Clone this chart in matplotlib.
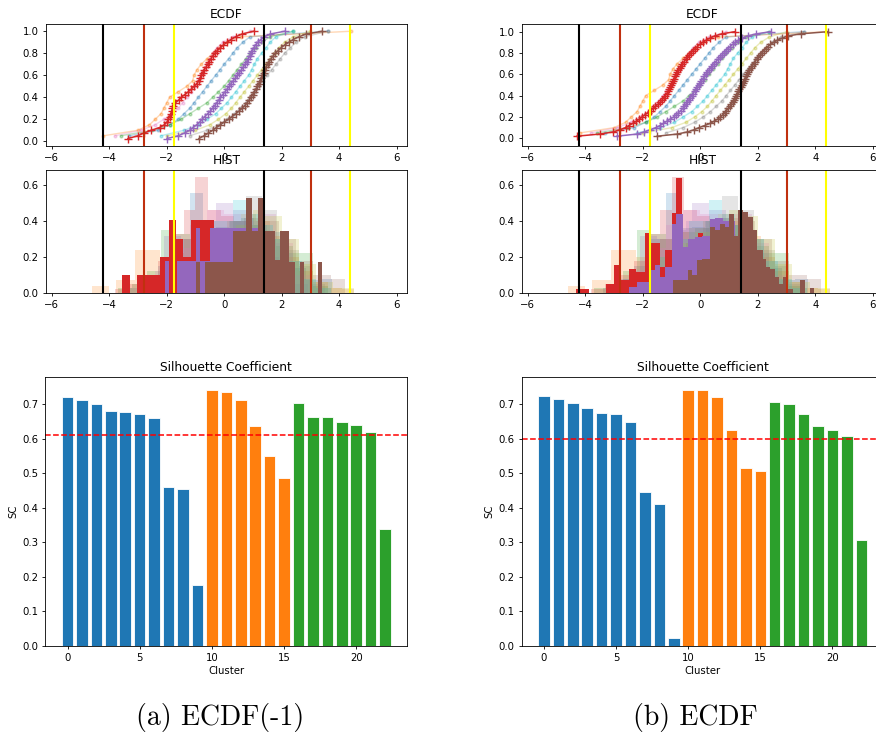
import numpy as np
import matplotlib.pyplot as plt

# ---- silhouette coefficient per cluster ----
sc_ecdf_m1 = [0.720, 0.711, 0.700, 0.679, 0.677, 0.672, 0.660, 0.460, 0.453, 0.176,
              0.741, 0.736, 0.712, 0.635, 0.550, 0.486,
              0.702, 0.663, 0.661, 0.647, 0.640, 0.620, 0.338]
sc_ecdf = [0.723, 0.714, 0.704, 0.687, 0.673, 0.671, 0.649, 0.446, 0.412, 0.023,
           0.741, 0.740, 0.721, 0.624, 0.516, 0.506,
           0.706, 0.700, 0.671, 0.635, 0.624, 0.606, 0.308]
cluster_group = [0, 0, 0, 0, 0, 0, 0, 0, 0, 0,
                 1, 1, 1, 1, 1, 1,
                 2, 2, 2, 2, 2, 2, 2]
group_colors = ["tab:blue", "tab:orange", "tab:green"]

# ---- reference bounds drawn on the ECDF / HIST panels ----
black_bounds = [-4.22, 1.40]
brick_bounds = [-2.80, 3.02]
yellow_bounds = [-1.75, 4.36]

# ---- background clusters: ECDF samples ----
faint_colors = ["tab:blue", "tab:orange", "tab:green", "tab:pink",
                "tab:gray", "tab:olive", "tab:cyan"]
blue_samples = [-3.3, -2.3, -1.9, -1.6, -1.4, -1.2, -1.05, -0.9, -0.75, -0.6,
                -0.45, -0.3, -0.15, 0.0, 0.15, 0.3, 0.45, 0.65, 0.9, 3.6]
orange_samples = [-4.2, -3.0, -2.6, -2.4, -2.2, -2.1, -2.0, -1.9, -1.6, -1.3,
                  -1.1, -1.05, -0.95, -0.8, -0.6, -0.4, -0.2, 0.1, 0.6, 4.4]
green_samples = [-3.6, -2.5, -1.9, -1.5, -1.2, -0.9, -0.6, -0.4, -0.2, 0.0,
                 0.15, 0.3, 0.45, 0.6, 0.75, 0.9, 1.1, 1.3, 1.6, 2.4]
pink_samples = [-3.8, -2.9, -2.4, -2.1, -1.8, -1.6, -1.45, -1.3, -1.15, -1.0,
                -0.9, -0.8, -0.7, -0.6, -0.5, -0.4, -0.25, -0.05, 0.3, 0.9]
gray_samples = [-1.2, -0.6, -0.2, 0.1, 0.35, 0.55, 0.75, 0.9, 1.05, 1.2,
                1.35, 1.5, 1.65, 1.8, 1.95, 2.1, 2.3, 2.5, 2.8, 3.6]
olive_samples = [-2.0, -1.0, -0.5, -0.2, 0.05, 0.25, 0.4, 0.55, 0.7, 0.85,
                 1.0, 1.15, 1.3, 1.45, 1.6, 1.75, 1.9, 2.1, 2.4, 3.0]
cyan_samples = [-2.2, -1.4, -0.9, -0.6, -0.3, -0.1, 0.1, 0.25, 0.4, 0.55,
                0.7, 0.85, 0.95, 1.05, 1.15, 1.3, 1.45, 1.6, 1.8, 2.4]

# ---- background clusters: histogram bins ----
hist_faint_colors = ["tab:blue", "tab:orange", "tab:green", "tab:red", "tab:purple",
                     "tab:brown", "tab:pink", "tab:gray", "tab:olive", "tab:cyan"]
blue_edges = [-3.4, -2.85, -2.3, -1.75, -1.2, -0.75, -0.3, 0.15, 0.6, 1.05, 1.5, 1.95, 2.4, 2.85, 3.3, 3.75]
blue_heights = [0.03, 0.08, 0.15, 0.30, 0.555, 0.36, 0.37, 0.40, 0.42, 0.38, 0.34, 0.22, 0.14, 0.07, 0.08]
orange_edges = [-4.6, -4.0, -3.75, -3.1, -2.25, -1.9, -1.4, -0.9, -0.4, 0.1, 0.6, 1.1, 1.6, 2.1, 2.6, 3.1, 3.6, 4.1, 4.5]
orange_heights = [0.04, 0.0, 0.07, 0.24, 0.20, 0.22, 0.30, 0.34, 0.36, 0.40, 0.44, 0.40, 0.32, 0.20, 0.12, 0.06, 0.03, 0.02]
green_edges = [-3.7, -3.2, -2.7, -2.2, -1.7, -1.2, -0.7, -0.2, 0.3, 0.8, 1.3, 1.8, 2.4, 3.1, 3.6]
green_heights = [0.03, 0.05, 0.12, 0.35, 0.33, 0.30, 0.34, 0.36, 0.40, 0.38, 0.30, 0.26, 0.225, 0.04]
red_edges = [-3.8, -3.3, -2.8, -2.3, -1.8, -1.4, -1.0, -0.55, -0.1, 0.35, 0.8, 1.25, 1.7, 2.2]
red_heights = [0.02, 0.05, 0.10, 0.18, 0.33, 0.46, 0.648, 0.46, 0.43, 0.40, 0.33, 0.25, 0.10]
purple_edges = [-2.7, -2.1, -1.5, -1.0, -0.5, -0.3, 0.3, 0.9, 1.4, 1.9, 2.4, 2.9]
purple_heights = [0.08, 0.32, 0.30, 0.35, 0.40, 0.50, 0.46, 0.30, 0.20, 0.10, 0.05]
brown_edges = [-2.3, -1.7, -1.1, -0.5, 0.1, 0.7, 1.3, 1.9, 2.5, 3.1, 3.7, 4.2]
brown_heights = [0.04, 0.10, 0.18, 0.28, 0.36, 0.42, 0.40, 0.30, 0.18, 0.10, 0.08]
pink_edges = [-3.0, -2.4, -1.8, -1.2, -0.6, 0.0, 0.6, 1.2, 1.8, 2.4, 3.0]
pink_heights = [0.05, 0.12, 0.25, 0.38, 0.46, 0.44, 0.40, 0.44, 0.28, 0.10]
gray_edges = [-2.2, -1.6, -1.0, -0.4, 0.2, 0.75, 1.3, 1.85, 2.2, 2.6, 3.0, 3.5]
gray_heights = [0.05, 0.10, 0.20, 0.30, 0.40, 0.54, 0.46, 0.30, 0.24, 0.15, 0.05]
olive_edges = [-2.6, -2.0, -1.4, -0.8, -0.2, 0.4, 1.0, 1.4, 2.0, 2.6, 3.2, 3.8, 4.5]
olive_heights = [0.03, 0.10, 0.20, 0.28, 0.34, 0.38, 0.46, 0.43, 0.30, 0.16, 0.06, 0.03]
cyan_edges = [-2.4, -1.9, -1.4, -0.9, -0.4, 0.3, 0.75, 1.2, 1.7, 2.2, 2.7, 3.2, 3.7]
cyan_heights = [0.04, 0.10, 0.20, 0.30, 0.40, 0.518, 0.44, 0.38, 0.30, 0.18, 0.08, 0.03]

# ---- highlighted clusters, ECDF(-1) ----
hl_red_m1 = [-3.35, -3.0, -2.8, -2.53, -2.25, -2.08, -1.99, -1.95, -1.90, -1.86,
             -1.83, -1.80, -1.78, -1.70, -1.58, -1.49, -1.37, -1.25, -1.14, -1.05,
             -0.95, -0.89, -0.84, -0.79, -0.75, -0.70, -0.63, -0.57, -0.52, -0.46,
             -0.40, -0.32, -0.24, -0.13, -0.03, 0.10, 0.23, 0.40, 0.62, 1.02]
hl_purple_m1 = [-1.99, -1.6, -1.38, -1.20, -1.08, -0.96, -0.85, -0.77, -0.68, -0.58,
                -0.48, -0.40, -0.33, -0.26, -0.19, -0.13, -0.05, 0.03, 0.10, 0.18,
                0.24, 0.31, 0.39, 0.46, 0.53, 0.60, 0.66, 0.73, 0.79, 0.84,
                0.89, 0.93, 0.98, 1.03, 1.09, 1.17, 1.27, 1.40, 1.60, 2.10]
hl_brown_m1 = [-0.88, -0.70, -0.55, -0.40, -0.27, -0.13, 0.00, 0.15, 0.28, 0.40,
               0.52, 0.62, 0.72, 0.80, 0.87, 0.93, 0.99, 1.05, 1.10, 1.15,
               1.20, 1.24, 1.28, 1.33, 1.37, 1.42, 1.46, 1.51, 1.57, 1.63,
               1.70, 1.78, 1.88, 1.98, 2.10, 2.25, 2.40, 2.60, 2.85, 3.41]
hl_red_m1_edges = [-3.565, -3.287, -3.032, -2.22, -1.931, -1.688, -1.433, -1.166, -0.355]
hl_red_m1_heights = [0.10, 0.0, 0.10, 0.20, 0.405, 0.30, 0.20, 0.405]
hl_purple_m1_edges = [-2.07, -1.931, -1.641, -0.992, -0.83, -0.506, 1.35]
hl_purple_m1_heights = [0.18, 0.0, 0.18, 0.363, 0.18, 0.363]
hl_brown_m1_edges = [-0.99, -0.83, -0.68, 0.31, 0.77, 0.97, 1.18, 1.41, 1.58, 1.78,
                     1.93, 2.27, 2.46, 2.62, 2.76, 3.26, 3.40]
hl_brown_m1_heights = [0.17, 0.0, 0.17, 0.345, 0.527, 0.345, 0.527, 0.345, 0.345, 0.183,
                       0.345, 0.17, 0.0, 0.17, 0.0, 0.17]

# ---- highlighted clusters, ECDF ----
hl_red = [-4.29, -3.5, -3.02, -2.8, -2.6, -2.48, -2.35, -2.22, -2.12, -2.03,
          -1.93, -1.83, -1.73, -1.65, -1.56, -1.47, -1.39, -1.33, -1.27, -1.22,
          -1.17, -1.12, -1.08, -1.05, -1.01, -0.98, -0.95, -0.91, -0.88, -0.84,
          -0.80, -0.76, -0.71, -0.67, -0.62, -0.56, -0.50, -0.45, -0.39, -0.33,
          -0.26, -0.18, -0.10, -0.02, 0.08, 0.20, 0.34, 0.50, 0.75, 1.2]
hl_purple = [-2.9, -2.2, -1.95, -1.74, -1.55, -1.40, -1.28, -1.17, -1.05, -0.93,
             -0.84, -0.76, -0.68, -0.61, -0.55, -0.50, -0.45, -0.40, -0.35, -0.30,
             -0.25, -0.20, -0.15, -0.11, -0.06, -0.01, 0.04, 0.09, 0.14, 0.19,
             0.24, 0.30, 0.36, 0.42, 0.48, 0.54, 0.61, 0.68, 0.75, 0.82,
             0.89, 0.96, 1.04, 1.12, 1.21, 1.32, 1.46, 1.65, 1.95, 2.45]
hl_brown = [-1.5, -0.8, -0.45, -0.22, -0.05, 0.15, 0.34, 0.48, 0.60, 0.70,
            0.78, 0.85, 0.91, 0.97, 1.03, 1.08, 1.12, 1.16, 1.20, 1.24,
            1.28, 1.32, 1.36, 1.40, 1.44, 1.48, 1.51, 1.55, 1.59, 1.63,
            1.67, 1.71, 1.76, 1.80, 1.85, 1.90, 1.96, 2.02, 2.08, 2.14,
            2.20, 2.27, 2.35, 2.44, 2.55, 2.68, 2.85, 3.05, 3.50, 4.44]
hl_red_edges = [-4.31, -3.883, -3.27, -3.016, -2.75, -2.496, -2.23, -1.918, -1.744,
                -1.397, -1.224, -0.993, -0.842, -0.646, -0.07, 0.11]
hl_red_heights = [0.02, 0.0, 0.052, 0.155, 0.07, 0.136, 0.118, 0.335, 0.28,
                  0.145, 0.24, 0.447, 0.639, 0.2, 0.335]
hl_purple_edges = [-2.496, -2.207, -1.744, -1.571, -1.397, -1.224, -0.993, -0.842,
                   -0.588, -0.415, -0.183, 0.048, 0.337, 0.51, 0.80, 1.204, 1.32, 1.49]
hl_purple_heights = [0.034, 0.06, 0.127, 0.155, 0.09, 0.145, 0.387, 0.44,
                     0.257, 0.30, 0.31, 0.32, 0.41, 0.42, 0.40, 0.32, 0.10]
hl_brown_edges = [-0.935, -0.53, -0.415, -0.30, -0.125, 0.048, 0.337, 0.51, 0.684, 0.857,
                  1.008, 1.17, 1.32, 1.493, 1.667, 1.817, 1.956, 2.164, 2.30, 2.418,
                  2.592, 2.742, 2.88, 3.054, 3.227, 3.46, 3.63, 3.80, 3.97]
hl_brown_heights = [0.07, 0.07, 0.127, 0.10, 0.183, 0.19, 0.365, 0.35, 0.387, 0.37,
                    0.44, 0.32, 0.46, 0.45, 0.425, 0.35, 0.24, 0.19, 0.145, 0.136,
                    0.09, 0.052, 0.09, 0.025, 0.0, 0.07, 0.0, 0.03]

faint_samples = [blue_samples, orange_samples, green_samples, pink_samples,
                 gray_samples, olive_samples, cyan_samples]
faint_hists = [(blue_edges, blue_heights), (orange_edges, orange_heights),
               (green_edges, green_heights), (red_edges, red_heights),
               (purple_edges, purple_heights), (brown_edges, brown_heights),
               (pink_edges, pink_heights), (gray_edges, gray_heights),
               (olive_edges, olive_heights), (cyan_edges, cyan_heights)]
hl_colors = ["tab:red", "tab:purple", "tab:brown"]

FS_TICK = 7.3
FS_TITLE = 8.8
LW_SPINE = 0.6

plt.rcParams.update({
    "font.size": FS_TICK,
    "xtick.labelsize": FS_TICK,
    "ytick.labelsize": FS_TICK,
    "axes.linewidth": LW_SPINE,
    "xtick.major.width": LW_SPINE,
    "ytick.major.width": LW_SPINE,
    "xtick.major.size": 2.5,
    "ytick.major.size": 2.5,
    "xtick.major.pad": 2.5,
    "ytick.major.pad": 2.5,
})


def add_bounds(ax):
    for x in black_bounds:
        ax.axvline(x, color="black", lw=1.5)
    for x in brick_bounds:
        ax.axvline(x, color="#c0300f", lw=1.5)
    for x in yellow_bounds:
        ax.axvline(x, color="yellow", lw=1.5)


def draw_ecdf(ax, highlighted, ylim):
    for c, s in zip(faint_colors, faint_samples):
        xs = np.sort(s)
        ys = np.arange(1, len(xs) + 1) / len(xs)
        ax.plot(xs, ys, ".-", color=c, alpha=0.3, ms=4, lw=1)
    for c, s in zip(hl_colors, highlighted):
        xs = np.sort(s)
        ys = np.arange(1, len(xs) + 1) / len(xs)
        ax.plot(xs, ys, "+-", color=c, ms=6, mew=1, lw=1.1)
    add_bounds(ax)
    ax.set_xlim(-6.21, 6.37)
    ax.set_ylim(*ylim)
    ax.set_xticks([-6, -4, -2, 0, 2, 4, 6])
    ax.set_yticks([0.0, 0.2, 0.4, 0.6, 0.8, 1.0])
    ax.set_title("ECDF", fontsize=FS_TITLE, pad=4)


def draw_hist(ax, highlighted):
    for c, (e, h) in zip(hist_faint_colors, faint_hists):
        ax.stairs(h, e, fill=True, color=c, alpha=0.2, lw=0)
    for c, (e, h) in zip(hl_colors, highlighted):
        ax.stairs(h, e, fill=True, color=c, alpha=1.0, lw=0)
    add_bounds(ax)
    ax.set_xlim(-6.21, 6.37)
    ax.set_ylim(0, 0.685)
    ax.set_xticks([-6, -4, -2, 0, 2, 4, 6])
    ax.set_yticks([0.0, 0.2, 0.4, 0.6])
    ax.set_title("HIST", fontsize=FS_TITLE, pad=4)


def draw_sc(ax, sc):
    colors = [group_colors[g] for g in cluster_group]
    ax.bar(np.arange(len(sc)), sc, color=colors, edgecolor="white", linewidth=0.6)
    ax.axhline(np.mean(sc), color="red", ls="--", lw=1.1)
    ax.set_xticks([0, 5, 10, 15, 20])
    ax.set_yticks(np.arange(0, 0.71, 0.1))
    ax.set_title("Silhouette Coefficient", fontsize=FS_TITLE, pad=4)
    ax.set_xlabel("Cluster", fontsize=FS_TICK, labelpad=2)
    ax.set_ylabel("SC", fontsize=FS_TICK, labelpad=3)


W, H = 876, 735
fig = plt.figure(figsize=(W / 100, H / 100), dpi=100)


def box(x0, y0, x1, y1):
    return [x0 / W, 1 - y1 / H, (x1 - x0) / W, (y1 - y0) / H]


# left column: ECDF(-1)
ax = fig.add_axes(box(45.7, 24, 407.3, 146))
draw_ecdf(ax, [hl_red_m1, hl_purple_m1, hl_brown_m1], (-0.043, 1.066))
ax = fig.add_axes(box(45.7, 170, 407.3, 293))
draw_hist(ax, [(hl_red_m1_edges, hl_red_m1_heights),
               (hl_purple_m1_edges, hl_purple_m1_heights),
               (hl_brown_m1_edges, hl_brown_m1_heights)])
ax = fig.add_axes(box(45.3, 377, 407.3, 646))
draw_sc(ax, sc_ecdf_m1)

# right column: ECDF
ax = fig.add_axes(box(521.7, 24, 883.5, 146))
draw_ecdf(ax, [hl_red, hl_purple, hl_brown], (-0.072, 1.072))
ax = fig.add_axes(box(521.7, 170, 883.5, 293))
draw_hist(ax, [(hl_red_edges, hl_red_heights),
               (hl_purple_edges, hl_purple_heights),
               (hl_brown_edges, hl_brown_heights)])
ax = fig.add_axes(box(521.7, 377, 883.5, 646))
draw_sc(ax, sc_ecdf)

fig.text(220 / W, 1 - 717 / H, "(a) ECDF(-1)", family="cmr10", fontsize=20,
         ha="center", va="center")
fig.text(695 / W, 1 - 717 / H, "(b) ECDF", family="cmr10", fontsize=20,
         ha="center", va="center")

fig.savefig("out.png", dpi=100)
